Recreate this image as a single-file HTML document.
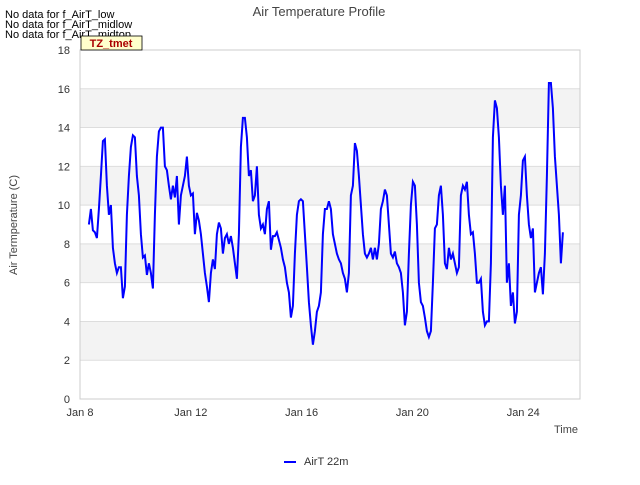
<!DOCTYPE html>
<html><head><meta charset="utf-8"><style>
body{margin:0;background:#fff;font-family:"Liberation Sans",sans-serif}
</style></head><body>
<svg width="640" height="480" xmlns="http://www.w3.org/2000/svg" font-family="Liberation Sans, sans-serif">
<rect width="640" height="480" fill="#fff"/>
<g id="bands"></g>
<g id="grid"></g>
<rect x="80" y="50" width="500" height="349" fill="none" stroke="#ccc"/>
<g id="yticks" font-size="11" fill="#333" text-anchor="end"></g>
<g id="xticks" font-size="11" fill="#333" text-anchor="middle"></g>
<path id="line" fill="none" stroke="#0000ff" stroke-width="2"/>
<text x="319" y="16" text-anchor="middle" font-size="13" fill="#444">Air Temperature Profile</text>
<text transform="translate(17,225) rotate(-90)" text-anchor="middle" font-size="11" fill="#444">Air Termperature (C)</text>
<text x="578" y="433" text-anchor="end" font-size="11" fill="#444">Time</text>
<text x="5" y="18" font-size="11" fill="#000">No data for f_AirT_low</text>
<text x="5" y="28" font-size="11" fill="#000">No data for f_AirT_midlow</text>
<text x="5" y="38" font-size="11" fill="#000">No data for f_AirT_midtop</text>
<rect x="81" y="36" width="61" height="14" fill="#ffffcc" stroke="#000" stroke-width="0.8"/>
<text x="111" y="47" text-anchor="middle" font-size="11" font-weight="bold" fill="#aa0000">TZ_tmet</text>
<line x1="284" y1="462" x2="296" y2="462" stroke="#0000ff" stroke-width="2"/>
<text x="304" y="465" font-size="11" fill="#333">AirT 22m</text>
</svg>
<script>
const yTicks=[0,2,4,6,8,10,12,14,16,18];
const xTickLabels=["Jan 8","Jan 12","Jan 16","Jan 20","Jan 24"];
const xTickDays=[0,4,8,12,16];
const startDay=0.32;
const stepDay=0.0722;
const temps=[9.0,9.8,8.7,8.6,8.3,9.8,11.5,13.3,13.4,11,9.5,10,7.8,7.0,6.5,6.8,6.8,5.2,5.8,9.5,11.5,13,13.6,13.5,11.5,10.5,8.5,7.3,7.4,6.4,7.0,6.5,5.7,9.5,12.5,13.8,14,14,12,11.8,11,10.3,11,10.4,11.5,9.0,10.5,11,11.5,12.5,11,10.5,10.6,8.5,9.6,9.2,8.5,7.5,6.5,5.8,5.0,6.5,7.2,6.7,8.5,9.1,8.8,7.5,8.3,8.5,8.0,8.4,7.8,7.0,6.2,8.5,13,14.5,14.5,13.5,11.5,11.8,10.2,10.5,12,9.5,8.8,9.0,8.5,9.8,10.2,7.7,8.4,8.4,8.6,8.2,7.8,7.2,6.8,6.0,5.5,4.2,4.8,7.5,9.5,10.2,10.3,10.2,8.5,6.8,5.0,3.8,2.8,3.5,4.5,4.8,5.5,8.5,9.8,9.8,10.2,9.8,8.5,8.0,7.5,7.2,7.0,6.5,6.2,5.5,6.5,10.5,11,13.2,12.8,11.5,10,8.5,7.5,7.3,7.5,7.8,7.2,7.8,7.2,8.0,9.8,10.2,10.8,10.5,9,7.5,7.3,7.6,7.0,6.8,6.5,5.5,3.8,4.5,7.5,10,11.2,11,9.0,6.0,5.0,4.8,4.2,3.5,3.2,3.5,6.0,8.8,9.0,10.5,11,9.5,7.0,6.7,7.8,7.2,7.5,7.0,6.5,6.8,10.5,11,10.8,11.2,9.5,8.5,8.6,7.5,6.0,6.0,6.2,4.5,3.8,4.0,4.0,7.0,13.5,15.4,15,13.5,11,9.5,11,6.0,7.0,4.8,5.5,3.9,4.5,9.5,10.5,12.3,12.5,10.5,9.0,8.3,8.8,5.5,6.0,6.5,6.8,5.4,7.5,11.5,16.3,16.3,15,12.5,11,9.5,7.0,8.6];
const X0=80,X1=580,Y0=399,Y1=50,DMAX=18.05,VMAX=18;
const xs=d=>X0+(d/DMAX)*(X1-X0);
const ys=v=>Y0-(v/VMAX)*(Y0-Y1);
const NS="http://www.w3.org/2000/svg";
const bands=document.getElementById('bands'),grid=document.getElementById('grid');
for(let i=0;i<yTicks.length-1;i++){
  if(i%2===1){const r=document.createElementNS(NS,'rect');
    
    
    r.setAttribute('x',X0);r.setAttribute('y',ys(yTicks[i+1]));r.setAttribute('width',X1-X0);r.setAttribute('height',ys(yTicks[i])-ys(yTicks[i+1]));r.setAttribute('fill','#f3f3f3');bands.appendChild(r);}
}
const yt=document.getElementById('yticks');
yTicks.forEach(v=>{
  const l=document.createElementNS(NS,'line');
  
  
  l.setAttribute('x1',X0);l.setAttribute('x2',X1);l.setAttribute('y1',ys(v));l.setAttribute('y2',ys(v));l.setAttribute('stroke','#ddd');grid.appendChild(l);
  const t=document.createElementNS(NS,'text');
  
  
  t.setAttribute('x',X0-10);t.setAttribute('y',ys(v)+4);t.textContent=v;yt.appendChild(t);
});
const xt=document.getElementById('xticks');
xTickDays.forEach((d,i)=>{
  const t=document.createElementNS(NS,'text');
  
  
  t.setAttribute('x',xs(d));t.setAttribute('y',Y0+17);t.textContent=xTickLabels[i];xt.appendChild(t);
});
let p='';
temps.forEach((v,i)=>{p+=(i?'L':'M')+xs(startDay+i*stepDay).toFixed(1)+','+ys(v).toFixed(1);});
document.getElementById('line').setAttribute('d',p);
</script>
</body></html>
